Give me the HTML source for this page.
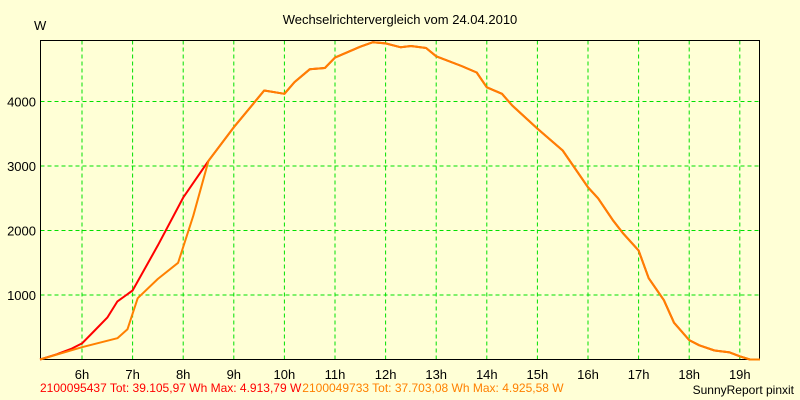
<!DOCTYPE html>
<html><head><meta charset="utf-8"><style>
html,body{margin:0;padding:0;background:#ffffd6;}
svg{display:block;font-family:"Liberation Sans",Arial,sans-serif;}
</style></head><body>
<svg id="c" width="800" height="400" viewBox="0 0 800 400">
<rect width="800" height="400" fill="#ffffd6"/>
<text x="400" y="24" text-anchor="middle" font-size="13" fill="#000">Wechselrichtervergleich vom 24.04.2010</text>
<text x="34" y="30" font-size="13" fill="#000">W</text>
<g id="grid"></g>
<g id="axes"></g>
<g id="series"></g>
<text x="40" y="392" font-size="12"><tspan fill="#ff0000">2100095437 Tot: 39.105,97 Wh Max: 4.913,79 W</tspan><tspan fill="#ff8000" dx="1">2100049733 Tot: 37.703,08 Wh Max: 4.925,58 W</tspan></text>
<text x="794" y="394" text-anchor="end" font-size="12" fill="#000">SunnyReport pinxit</text>
</svg>
<script>
const hourTicks=[6,7,8,9,10,11,12,13,14,15,16,17,18,19];
const wattTicks=[1000,2000,3000,4000];
const redT=[5.17,5.5,5.8,6,6.25,6.5,6.7,7,7.5,8,8.5,9,9.6,10,10.2,10.5,10.8,11,11.5,11.75,12,12.3,12.5,12.8,13,13.5,13.8,14,14.3,14.5,15,15.5,16,16.2,16.5,16.7,17,17.2,17.5,17.7,18,18.2,18.5,18.8,19,19.2,19.4];
const redW=[0,80,170,250,450,650,900,1070,1770,2510,3080,3600,4170,4120,4300,4500,4520,4680,4850,4920,4900,4840,4860,4830,4700,4550,4450,4220,4120,3940,3580,3240,2670,2500,2150,1950,1690,1260,920,570,300,220,140,110,50,0,0];
const orangeT=[5.17,6,6.7,6.9,7.1,7.5,7.9,8.2,8.5,9,9.6,10,10.2,10.5,10.8,11,11.5,11.75,12,12.3,12.5,12.8,13,13.5,13.8,14,14.3,14.5,15,15.5,16,16.2,16.5,16.7,17,17.2,17.5,17.7,18,18.2,18.5,18.8,19,19.2,19.4];
const orangeW=[0,190,330,470,950,1250,1500,2230,3080,3600,4170,4120,4300,4500,4520,4680,4850,4920,4900,4840,4860,4830,4700,4550,4450,4220,4120,3940,3580,3240,2670,2500,2150,1950,1690,1260,920,570,300,220,140,110,50,0,0];
const L=40.5,R=759.5,T=40.5,B=359.5;
const x=h=>82+(h-6)*50.6;
const y=w=>359.5-w*0.0645;
const NS="http://www.w3.org/2000/svg";
function mk(tag,attrs,parent){const e=document.createElementNS(NS,tag);for(const k in attrs)e.setAttribute(k,attrs[k]);parent.appendChild(e);return e;}
const grid=document.getElementById('grid'),axes=document.getElementById('axes'),ser=document.getElementById('series');
hourTicks.forEach(h=>{
 const l=mk('line',{x1:x(h),x2:x(h),y1:T,y2:B,stroke:'#00e000','stroke-dasharray':'4,3','stroke-width':1},grid);
 
 
 const t=mk('text',{x:x(h),y:379,'text-anchor':'middle','font-size':13,fill:'#000'},axes);
 t.textContent=h+'h';
 
 
});
wattTicks.forEach(w=>{
 const l=mk('line',{x1:L,x2:R,y1:y(w),y2:y(w),stroke:'#00e000','stroke-dasharray':'4,3','stroke-width':1},grid);
 
 
 const t=mk('text',{x:36,y:y(w)+5,'text-anchor':'end','font-size':13,fill:'#000'},axes);
 t.textContent=w;
 
 
});
const fr=mk('rect',{x:L,y:T,width:R-L,height:B-T,fill:'none',stroke:'#000','stroke-width':1},axes);


function line(ts,ws,col,name){
 const p=ts.map((t,i)=>x(t).toFixed(1)+','+y(ws[i]).toFixed(1)).join(' ');
 const e=mk('polyline',{points:p,fill:'none',stroke:col,'stroke-width':2,'stroke-linejoin':'round'},ser);
 
 
}
line(redT,redW,'#ff0000','series-2100095437');
line(orangeT,orangeW,'#ff8000','series-2100049733');
</script>
</body></html>
